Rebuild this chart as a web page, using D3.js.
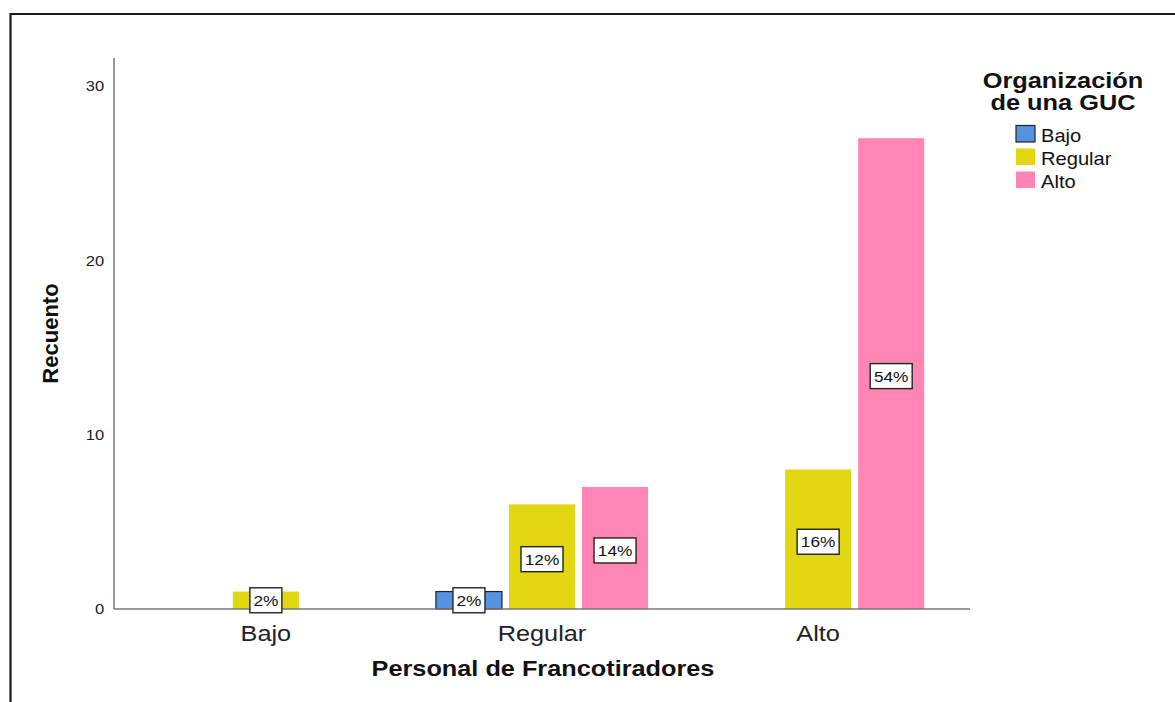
<!DOCTYPE html>
<html><head><meta charset="utf-8">
<script src="https://cdn.jsdelivr.net/npm/d3@7"></script>
<style>body{margin:0;background:#fff;font-family:"Liberation Sans",Arial,sans-serif;}</style>
</head><body><svg id="c" width="1175" height="702"></svg>
<script>
const categories = ["Bajo", "Regular", "Alto"];
const series = ["Bajo", "Regular", "Alto"];
// values[category][series]; null = no bar
const bajoValues = [null, 1, null];
const regularValues = [1, 6, 7];
const altoValues = [null, 8, 27];
const pctLabels = [[null, "2%", null], [ "2%", "12%", "14%"], [null, "16%", "54%"]];
const yTicks = [0, 10, 20, 30];
const colors = ["#5593e0", "#e2d710", "#ff85b5"];
const legendTitle = ["Organización", "de una GUC"];
const xTitle = "Personal de Francotiradores";
const yTitle = "Recuento";

(function(){
const values = [bajoValues, regularValues, altoValues];
const svg = d3.select("#c");
const font = '"Liberation Sans", Arial, sans-serif';
const SX = 1.15;

function txt(sel, x, y, s, size, opts) {
  opts = opts || {};
  return sel.append("text").text(s)
    .attr("transform", `translate(${x},${y}) scale(${opts.sx || SX},1)`)
    .attr("text-anchor", opts.anchor || "start")
    .attr("font-family", font).attr("font-size", size)
    .attr("font-weight", opts.bold ? "bold" : "normal")
    .attr("fill", "#111");
}

// frame
svg.append("path").attr("d", "M10.5,702 V14 H1175").attr("fill", "none").attr("stroke", "#1a1a1a").attr("stroke-width", 2.2);

const mL = 114, mR = 970, mT = 58, mB = 609;
const y = d3.scaleLinear().domain([0, 31.6]).range([mB, mT]);
const x0 = d3.scaleBand().domain(categories).range([mL, mR]).paddingInner(0).paddingOuter(0.05);
const x1 = d3.scaleBand().domain(series).range([0, x0.bandwidth()]).paddingInner(7/73).paddingOuter(0.438);

// bars
const data = [];
categories.forEach((c, i) => series.forEach((s, j) => {
  if (values[i][j] != null) data.push({c, s, j, v: values[i][j], label: pctLabels[i][j]});
}));
svg.selectAll("rect.bar").data(data).enter().append("rect")
  .attr("x", d => x0(d.c) + x1(d.s))
  .attr("y", d => y(d.v))
  .attr("width", x1.bandwidth())
  .attr("height", d => y(0) - y(d.v))
  .attr("fill", d => colors[d.j])
  .attr("stroke", d => d.j === 0 ? "#222" : "none")
  .attr("stroke-width", 1.2);

// axes
const yAxis = svg.append("g").attr("transform", `translate(${mL},0)`)
  .call(d3.axisLeft(y).tickValues(yTicks).tickSize(0).tickPadding(9));
yAxis.select(".domain").attr("stroke", "#777").attr("stroke-width", 1.5).attr("d", `M0,${mT}V${mB}`);
yAxis.selectAll("text").attr("font-family", font).attr("font-size", 15).attr("fill", "#222")
  .attr("transform", "scale(1.1,1)");

const xAxis = svg.append("g").attr("transform", `translate(0,${mB})`)
  .call(d3.axisBottom(x0).tickSize(0).tickPadding(16));
xAxis.select(".domain").attr("stroke", "#777").attr("stroke-width", 1.5).attr("d", `M${mL},0H${mR}`);
xAxis.selectAll("text").attr("font-family", font).attr("font-size", 22).attr("fill", "#222")
  .attr("transform", `scale(${SX},1)`);

// labels
const lab = svg.selectAll("g.lab").data(data).enter().append("g")
  .attr("transform", d => `translate(${x0(d.c) + x1(d.s) + x1.bandwidth()/2},${(y(d.v) + y(0))/2 + (d.v < 2 ? 0 : 2.5)})`);
lab.append("rect").attr("x", d => d.label.length > 2 ? -21 : -16).attr("y", -12.5)
  .attr("width", d => d.label.length > 2 ? 42 : 32).attr("height", 25)
  .attr("fill", "#fff").attr("stroke", "#222").attr("stroke-width", 1.4);
lab.append("text").text(d => d.label).attr("text-anchor", "middle").attr("dy", "0.36em")
  .attr("transform", `scale(${SX},1)`)
  .attr("font-family", font).attr("font-size", 15).attr("fill", "#111");

// axis titles
txt(svg, (mL + mR)/2 + 1, 676, xTitle, 22, {anchor: "middle", bold: true});
svg.append("text").text(yTitle).attr("transform", `translate(58,${(mT+mB)/2}) rotate(-90)`)
  .attr("text-anchor", "middle").attr("font-family", font).attr("font-weight", "bold").attr("font-size", 22).attr("fill", "#111");

// legend
legendTitle.forEach((t, i) => txt(svg, 1063, 88 + i*21.5, t, 21.5, {anchor: "middle", bold: true, sx: 1.18}));
series.forEach((s, i) => {
  svg.append("rect").attr("x", 1016).attr("y", 125.5 + i*23).attr("width", 19).attr("height", 16.5)
    .attr("fill", colors[i]).attr("stroke", i === 0 ? "#222" : "none").attr("stroke-width", 1.2);
  txt(svg, 1041, 142 + i*23, s, 17.5, {sx: 1.15});
});
})();
</script></body></html>
